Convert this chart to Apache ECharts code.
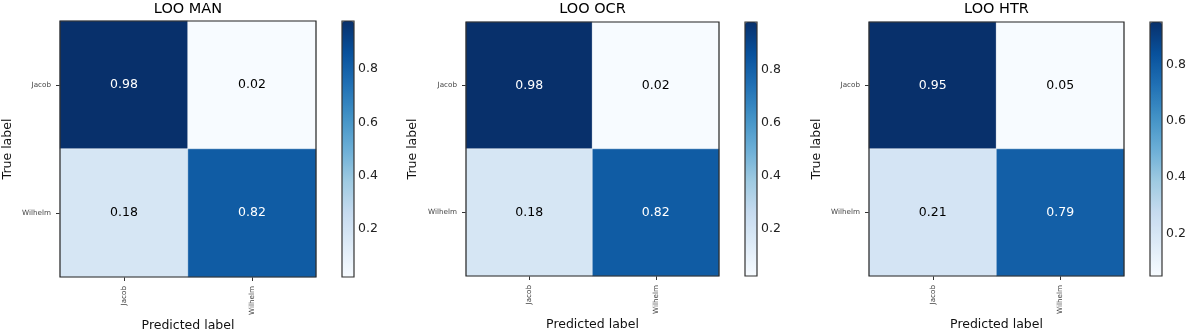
<!DOCTYPE html>
<html lang="en">
<head>
  <meta charset="UTF-8" />
  <title>LOO confusion matrices</title>
  <script src="https://cdn.jsdelivr.net/npm/echarts@6/dist/echarts.min.js"></script>
  <style>
    body { margin: 0; background: #fff; }
    #chart { width: 1192px; height: 332px; }
  </style>
</head>
<body>
  <div id="chart"></div>
  <script>
    // data
    const categories = ['Jacob', 'Wilhelm'];
    const titles = ['LOO MAN', 'LOO OCR', 'LOO HTR'];
    const manValues = [[0.98, 0.02], [0.18, 0.82]];
    const ocrValues = [[0.98, 0.02], [0.18, 0.82]];
    const htrValues = [[0.95, 0.05], [0.21, 0.79]];
    const colorbarTicks = [0.2, 0.4, 0.6, 0.8];

    const matrices = [manValues, ocrValues, htrValues];
    // matplotlib "Blues"
    const blues = ['#f7fbff', '#deebf7', '#c6dbef', '#9ecae1', '#6baed6',
                   '#4292c6', '#2171b5', '#08519c', '#08306b'];
    const font = 'DejaVu Sans';

    // panel placement (pixels)
    const layout = [
      { left: 60,  top: 21, width: 256, height: 256, cbLeft: 342, nameGap: 46 },
      { left: 466, top: 22, width: 253, height: 254, cbLeft: 745, nameGap: 47 },
      { left: 869, top: 22, width: 255, height: 254, cbLeft: 1150, nameGap: 46 }
    ];
    const cbWidth = 12;

    const option = {
      animation: false,
      title: [], grid: [], xAxis: [], yAxis: [], series: [], visualMap: []
    };

    matrices.forEach((m, i) => {
      const L = layout[i];
      const flat = m.flat();
      const min = Math.min(...flat);
      const max = Math.max(...flat);

      option.title.push({
        text: titles[i],
        left: L.left + L.width / 2,
        top: 2,
        textAlign: 'center',
        padding: 0,
        textStyle: { fontFamily: font, fontSize: 14.5, fontWeight: 'normal', color: '#000' }
      });

      // heatmap grid + colorbar grid
      option.grid.push({
        left: L.left, top: L.top, width: L.width, height: L.height,
        outerBoundsMode: 'none', containLabel: false,
        show: true, z: 5, borderColor: '#222', borderWidth: 1.2,
        backgroundColor: 'transparent'
      });
      option.grid.push({
        left: L.cbLeft, top: L.top, width: cbWidth, height: L.height,
        outerBoundsMode: 'none', containLabel: false,
        show: true, z: 10, borderColor: '#333', borderWidth: 1.2,
        backgroundColor: 'transparent'
      });

      option.xAxis.push({
        gridIndex: 2 * i, type: 'category', data: categories,
        name: 'Predicted label', nameLocation: 'middle', nameGap: 42, nameMoveOverlap: false,
        nameTextStyle: { fontFamily: font, fontSize: 12.5, color: '#111' },
        axisLine: { show: false },
        axisTick: { show: true, alignWithLabel: true, length: 4, lineStyle: { color: '#333' } },
        axisLabel: { rotate: 90, fontSize: 7.2, fontFamily: font, color: '#444', margin: 9 },
        splitLine: { show: false }
      });
      option.xAxis.push({ gridIndex: 2 * i + 1, type: 'value', show: false });

      option.yAxis.push({
        gridIndex: 2 * i, type: 'category', data: categories, inverse: true,
        name: 'True label', nameLocation: 'middle', nameGap: L.nameGap, nameMoveOverlap: false,
        nameTextStyle: { fontFamily: font, fontSize: 12.5, color: '#111' },
        axisLine: { show: false },
        axisTick: { show: true, alignWithLabel: true, length: 4, lineStyle: { color: '#333' } },
        axisLabel: { fontSize: 7.2, fontFamily: font, color: '#444', margin: 9 },
        splitLine: { show: false }
      });
      option.yAxis.push({
        gridIndex: 2 * i + 1, type: 'value', min: min, max: max, position: 'right',
        axisLine: { show: false },
        splitLine: { show: false },
        axisTick: { show: true, customValues: colorbarTicks, length: 4, lineStyle: { color: '#333' } },
        axisLabel: {
          customValues: colorbarTicks, fontSize: 12.5, fontFamily: font, color: '#222', margin: 4,
          formatter: v => v.toFixed(1)
        }
      });

      const data = [];
      m.forEach((row, r) => row.forEach((v, c) => {
        data.push({ value: [c, r, v], label: { color: v > max / 2 ? '#fff' : '#000' } });
      }));

      option.series.push({
        type: 'heatmap', xAxisIndex: 2 * i, yAxisIndex: 2 * i, data: data,
        itemStyle: { borderColor: 'rgba(255,255,255,0.55)', borderWidth: 0.8 },
        label: { show: true, fontSize: 12.5, fontFamily: font, formatter: p => p.value[2].toFixed(2) },
        emphasis: { disabled: true }
      });

      option.visualMap.push({
        type: 'continuous', seriesIndex: i, dimension: 2, min: min, max: max,
        show: true, calculable: false, hoverLink: false,
        left: L.cbLeft, top: L.top, itemWidth: cbWidth, itemHeight: L.height,
        padding: 0, inRange: { color: blues }
      });
    });

    const chart = echarts.init(document.getElementById('chart'), null, { renderer: 'canvas' });
    chart.setOption(option);
  </script>
</body>
</html>
